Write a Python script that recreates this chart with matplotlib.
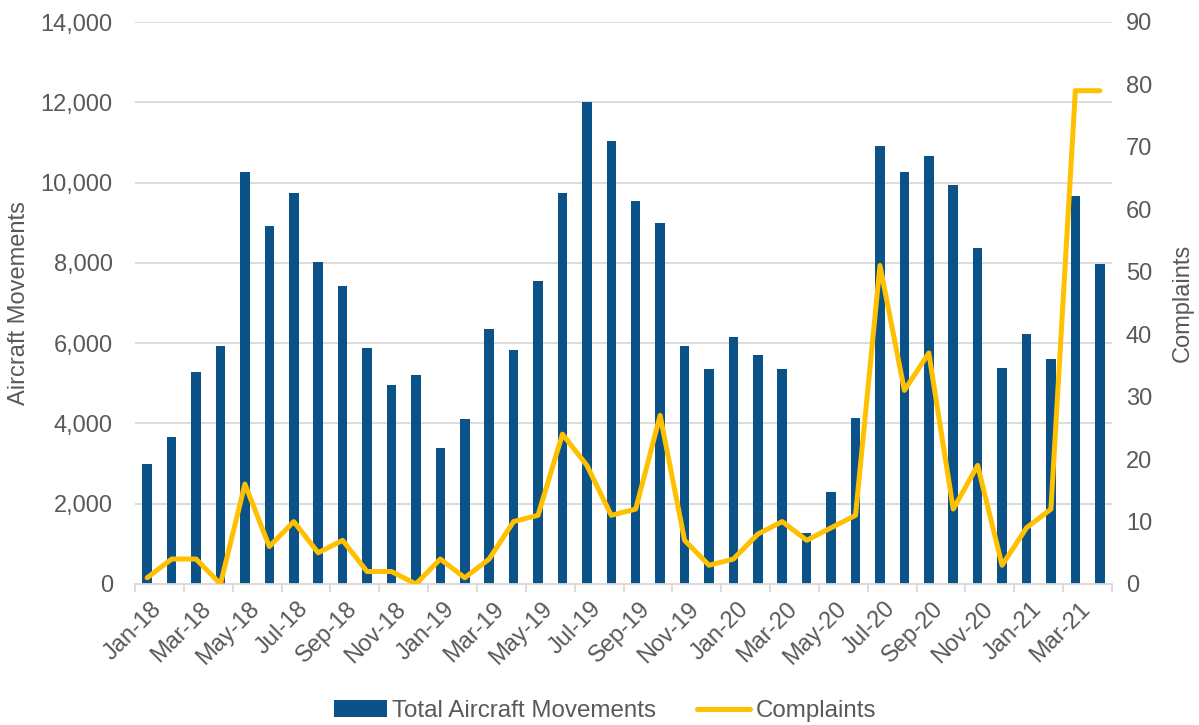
import matplotlib
matplotlib.use("Agg")
import matplotlib.pyplot as plt
import numpy as np

months = ["Jan-18","Feb-18","Mar-18","Apr-18","May-18","Jun-18","Jul-18","Aug-18","Sep-18","Oct-18","Nov-18","Dec-18",
          "Jan-19","Feb-19","Mar-19","Apr-19","May-19","Jun-19","Jul-19","Aug-19","Sep-19","Oct-19","Nov-19","Dec-19",
          "Jan-20","Feb-20","Mar-20","Apr-20","May-20","Jun-20","Jul-20","Aug-20","Sep-20","Oct-20","Nov-20","Dec-20",
          "Jan-21","Feb-21","Mar-21","Apr-21"]
movements = [3000, 3670, 5270, 5930, 10260, 8920, 9730, 8010, 7420, 5870, 4960, 5200,
             3380, 4110, 6350, 5830, 7550, 9730, 12000, 11040, 9535, 9000, 5920, 5350,
             6160, 5700, 5350, 1265, 2280, 4140, 10910, 10260, 10660, 9930, 8380, 5385,
             6225, 5600, 9675, 7965]
complaints = [1, 4, 4, 0, 16, 6, 10, 5, 7, 2, 2, 0,
              4, 1, 4, 10, 11, 24, 19, 11, 12, 27, 7, 3,
              4, 8, 10, 7, 9, 11, 51, 31, 37, 12, 19, 3,
              9, 12, 79, 79]

plt.rcParams['font.family'] = ['Liberation Sans', 'DejaVu Sans']
txt = '#595959'
bar_c = '#0b5289'
line_c = '#ffc000'
grid_c = '#d9d9d9'
fs = 17

fig = plt.figure(figsize=(11.99, 7.25), dpi=100)
ax = fig.add_axes([135/1199, 1-584/725, (1112-135)/1199, (584-22)/725])
x = np.arange(len(months))
ax.bar(x, movements, width=0.39, color=bar_c, zorder=2, label='Total Aircraft Movements')
ax.set_xlim(-0.5, len(months)-0.5)
ax.set_ylim(0, 14000)
ax.set_yticks(np.arange(0, 14001, 2000))
ax.set_yticklabels([f"{v:,}" for v in range(0, 14001, 2000)])
ax.yaxis.grid(True, color=grid_c, linewidth=1.3, zorder=0)
ax.set_axisbelow(True)
for s in ['top', 'right', 'left']:
    ax.spines[s].set_visible(False)
ax.spines['bottom'].set_color(grid_c)
ax.spines['bottom'].set_linewidth(1.3)
ax.tick_params(axis='y', length=0, labelsize=fs, labelcolor=txt, pad=16)
ax.set_ylabel('Aircraft Movements', fontsize=fs, color=txt, labelpad=8)

ax.set_xticks(np.arange(-0.5, len(months), 2))
ax.set_xticklabels([])
ax.tick_params(axis='x', which='major', length=6, color=grid_c, width=1.3)
ax.set_xticks(x[::2] + 0.15, minor=True)
ax.set_xticklabels(months[::2], minor=True, rotation=45, ha='right', rotation_mode='anchor',
                   fontsize=fs, color=txt)
ax.tick_params(axis='x', which='minor', length=0, pad=10)

ax2 = ax.twinx()
ax2.plot(x, complaints, color=line_c, linewidth=3.6, zorder=3, label='Complaints',
         solid_joinstyle='round', solid_capstyle='round')
ax2.set_ylim(0, 90)
ax2.set_yticks(np.arange(0, 91, 10))
for s in ['top', 'right', 'left', 'bottom']:
    ax2.spines[s].set_visible(False)
ax2.tick_params(axis='y', length=0, labelsize=fs, labelcolor=txt, pad=10)
ax2.set_ylabel('Complaints', fontsize=fs, color=txt, labelpad=14)

h1, l1 = ax.get_legend_handles_labels()
h2, l2 = ax2.get_legend_handles_labels()
fig.legend(h1 + h2, l1 + l2, loc='center', bbox_to_anchor=(605/1199, 1-711/725), ncol=2,
           frameon=False, fontsize=17.4, labelcolor=txt, handlelength=2.2, handletextpad=0.2,
           columnspacing=1.7)

fig.savefig('out.png', dpi=100)
